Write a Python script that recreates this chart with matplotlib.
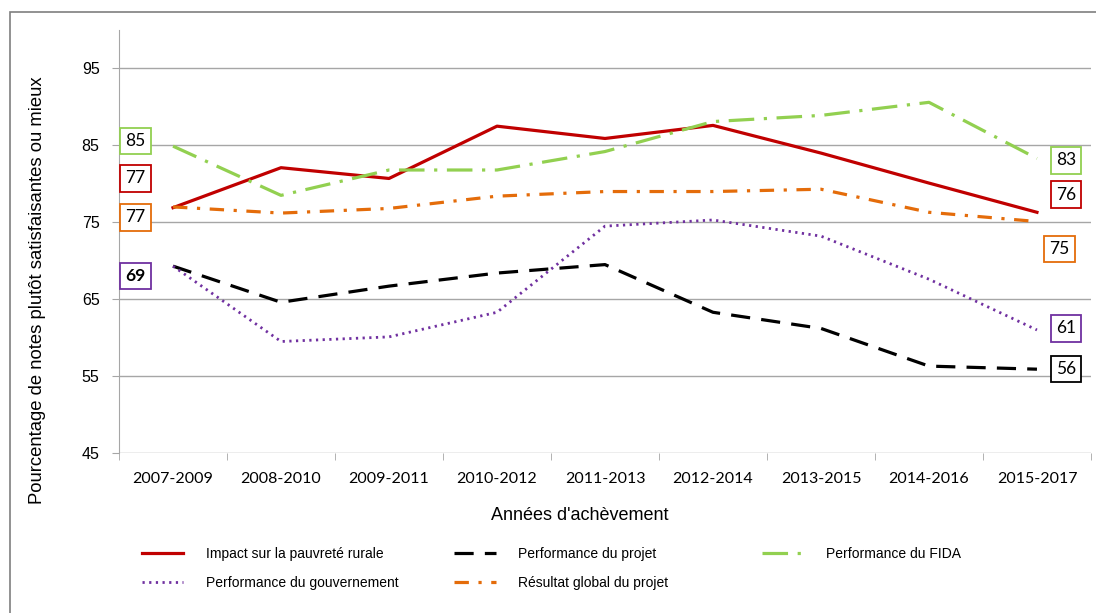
import matplotlib.pyplot as plt
from matplotlib.patches import Rectangle

# Data
periods = ['2007-2009', '2008-2010', '2009-2011', '2010-2012', '2011-2013',
           '2012-2014', '2013-2015', '2014-2016', '2015-2017']
impact = [76.9, 82.1, 80.7, 87.5, 85.9, 87.6, 84.0, 80.1, 76.3]
projet = [69.3, 64.6, 66.7, 68.4, 69.5, 63.3, 61.2, 56.3, 55.9]
fida = [84.9, 78.5, 81.8, 81.8, 84.2, 88.1, 88.9, 90.6, 83.3]
gouv = [69.3, 59.5, 60.1, 63.3, 74.5, 75.3, 73.2, 67.6, 61.0]
global_ = [77.0, 76.2, 76.8, 78.4, 79.0, 79.0, 79.3, 76.3, 75.1]

plt.rcParams['font.family'] = ['Liberation Sans', 'DejaVu Sans']

fig = plt.figure(figsize=(10.96, 6.13), dpi=100)
ax = fig.add_axes([0.1086, 0.261, 0.8868, 0.690])

x = list(range(len(periods)))
red, black, green, purple, orange = '#C00000', '#000000', '#92D050', '#7030A0', '#E46C0A'

l_imp, = ax.plot(x, impact, color=red, lw=2.3, label='Impact sur la pauvreté rurale')
l_proj, = ax.plot(x, projet, color=black, lw=2.3, dashes=(6, 3.5), label='Performance du projet')
l_fida, = ax.plot(x, fida, color=green, lw=2.3, dashes=(8, 3, 1, 3), label='Performance du FIDA')
l_gouv, = ax.plot(x, gouv, color=purple, lw=2.0, dashes=(0.8, 1.6), label='Performance du gouvernement')
l_glob, = ax.plot(x, global_, color=orange, lw=2.3, dashes=(4.5, 3, 1, 3), label='Résultat global du projet')

ax.set_xlim(-0.5, len(periods) - 0.5)
ax.set_ylim(45, 100)
ax.set_yticks([45, 55, 65, 75, 85, 95])
ax.set_xticks(x)
ax.set_xticklabels(periods)
ax.set_xticks([i + 0.5 for i in range(-1, len(periods))], minor=True)
ax.yaxis.grid(True, color='#A6A6A6', lw=1)
ax.set_axisbelow(True)
for s in ['top', 'right', 'bottom']:
    ax.spines[s].set_visible(False)
ax.spines['left'].set_color('#A6A6A6')
ax.tick_params(axis='x', which='major', length=0, pad=14, labelsize=11.5)
ax.tick_params(axis='x', which='minor', length=5, color='#A6A6A6')
ax.tick_params(axis='y', length=5, color='#A6A6A6', pad=9, labelsize=11.5)
for lab in ax.get_xticklabels():
    lab.set_fontfamily(['Lato', 'DejaVu Sans'])

ax.set_ylabel('Pourcentage de notes plutôt satisfaisantes ou mieux', fontsize=13.3)
ax.yaxis.set_label_coords(-0.075, 0.385)
ax.set_xlabel("Années d'achèvement", fontsize=13)
ax.xaxis.set_label_coords(0.474, -0.127)

# value labels in boxes
def box(xp, yp, val, col, bold=False):
    ax.text(xp, yp, str(round(val)), ha='center', va='center', fontsize=12.5,
            fontfamily=['Lato', 'DejaVu Sans'], fontweight='bold' if bold else 'normal',
            bbox=dict(boxstyle='square,pad=0.3', fc='white', ec=col, lw=1.3))

box(-0.35, 85.6, fida[0], green)
box(-0.35, 80.7, impact[0], red)
box(-0.35, 75.65, global_[0], orange)
box(-0.35, 68.0, gouv[0], purple, bold=True)
box(8.27, 83.05, fida[-1], green)
box(8.27, 78.6, impact[-1], red)
box(8.21, 71.5, global_[-1], orange)
box(8.27, 61.2, gouv[-1], purple)
box(8.27, 55.9, projet[-1], black)

# legend drawn as three columns, as in the reference
columns = [([l_imp, l_gouv], 0.118), ([l_proj, l_glob], 0.403), ([l_fida], 0.684)]
for hs, xpos in columns:
    fig.legend(handles=hs, labels=[h.get_label() for h in hs],
               loc='upper left', bbox_to_anchor=(xpos, 0.128), frameon=False,
               fontsize=10, handlelength=3.0, handletextpad=1.6, labelspacing=1.1)

fig.patches.append(Rectangle((0.0095, -0.01), 1.0, 0.99, transform=fig.transFigure,
                             fill=False, edgecolor='#7F7F7F', lw=1.2))

fig.savefig('out.png', dpi=100)
